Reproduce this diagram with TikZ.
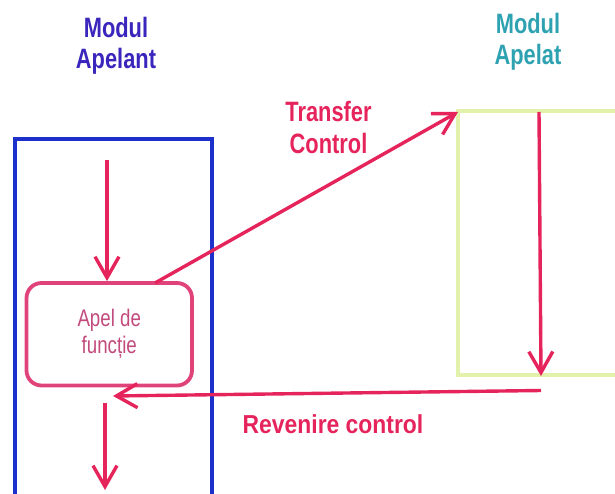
\documentclass[tikz,border=0pt]{standalone}
\usepackage{fontspec}
\setmainfont{Liberation Sans}
\newfontfamily\narrowsans[FakeStretch=0.78]{Liberation Sans}
\newfontfamily\labelsans[FakeStretch=0.88]{Liberation Sans}
\usetikzlibrary{arrows.meta}
\definecolor{flowred}{HTML}{E6245C}
\definecolor{callpink}{HTML}{E0437A}
\definecolor{calltext}{HTML}{C24A7C}
\definecolor{callerblue}{HTML}{1E30CC}
\definecolor{calleegreen}{HTML}{E3F2AA}
\definecolor{titleblue}{HTML}{3A26BC}
\definecolor{titleteal}{HTML}{2FA2B2}
\tikzset{
  flow/.style={draw=flowred, line width=3.4pt,
    -{Straight Barb[length=21pt,width=24pt,line width=3.4pt]}},
  frame/.style={line width=4pt},
  modtitle/.style={font=\narrowsans\fontsize{28}{31}\selectfont\bfseries,
    align=center, inner sep=0pt},
  flowlabel/.style={font=\narrowsans\fontsize{28}{31.3}\selectfont\bfseries,
    text=flowred, align=center, inner sep=0pt},
}
\begin{document}
\begin{tikzpicture}[x=1pt,y=-1pt]
  \useasboundingbox (0,0) rectangle (615,494);
  % module frames
  \draw[frame, callerblue] (15,520) -- (15,138.7) -- (212,138.7) -- (212,520);
  \draw[frame, calleegreen] (640,111) -- (457.5,111) -- (457.5,375) -- (640,375);
  % titles
  \node[modtitle, text=titleblue] (tcaller) at (116,46) {Modul\\Apelant};
  \node[modtitle, text=titleteal] (tcallee) at (528,42) {Modul\\Apelat};
  % call box
  \node[draw=callpink, line width=3.8pt, rounded corners=15pt,
        minimum width=165.5pt, minimum height=102.5pt, inner sep=0pt,
        text=calltext, font=\narrowsans\fontsize{24}{27}\selectfont, align=center]
        (call) at (109.25,334.25) {Apel de\\funcție};
  % control flow
  \coordinate (inTop) at (107,160);
  \coordinate (outBot) at (105,403);
  \coordinate (outEnd) at (105,490);
  \coordinate (tstart) at (155,283);
  \coordinate (calleeIn) at (458,112);
  \coordinate (bodyTop) at (539,112);
  \coordinate (bodyEnd) at (541,376);
  \coordinate (retStart) at (541,390.5);
  \coordinate (retEnd) at (113,396);
  \draw[flow] (inTop) -- (call.north -| inTop);
  \draw[flow] (tstart) -- (calleeIn);
  \draw[flow] (bodyTop) -- (bodyEnd);
  \draw[flow] (retStart) -- (retEnd);
  \draw[flow] (outBot) -- (outEnd);
  % labels
  \node[flowlabel] (ltransfer) at (328.5,127.4) {Transfer\\Control};
  \node[flowlabel, font=\labelsans\fontsize{26}{28}\selectfont\bfseries,
        anchor=base] (lreturn) at (333,433) {Revenire control};
\end{tikzpicture}
\end{document}
